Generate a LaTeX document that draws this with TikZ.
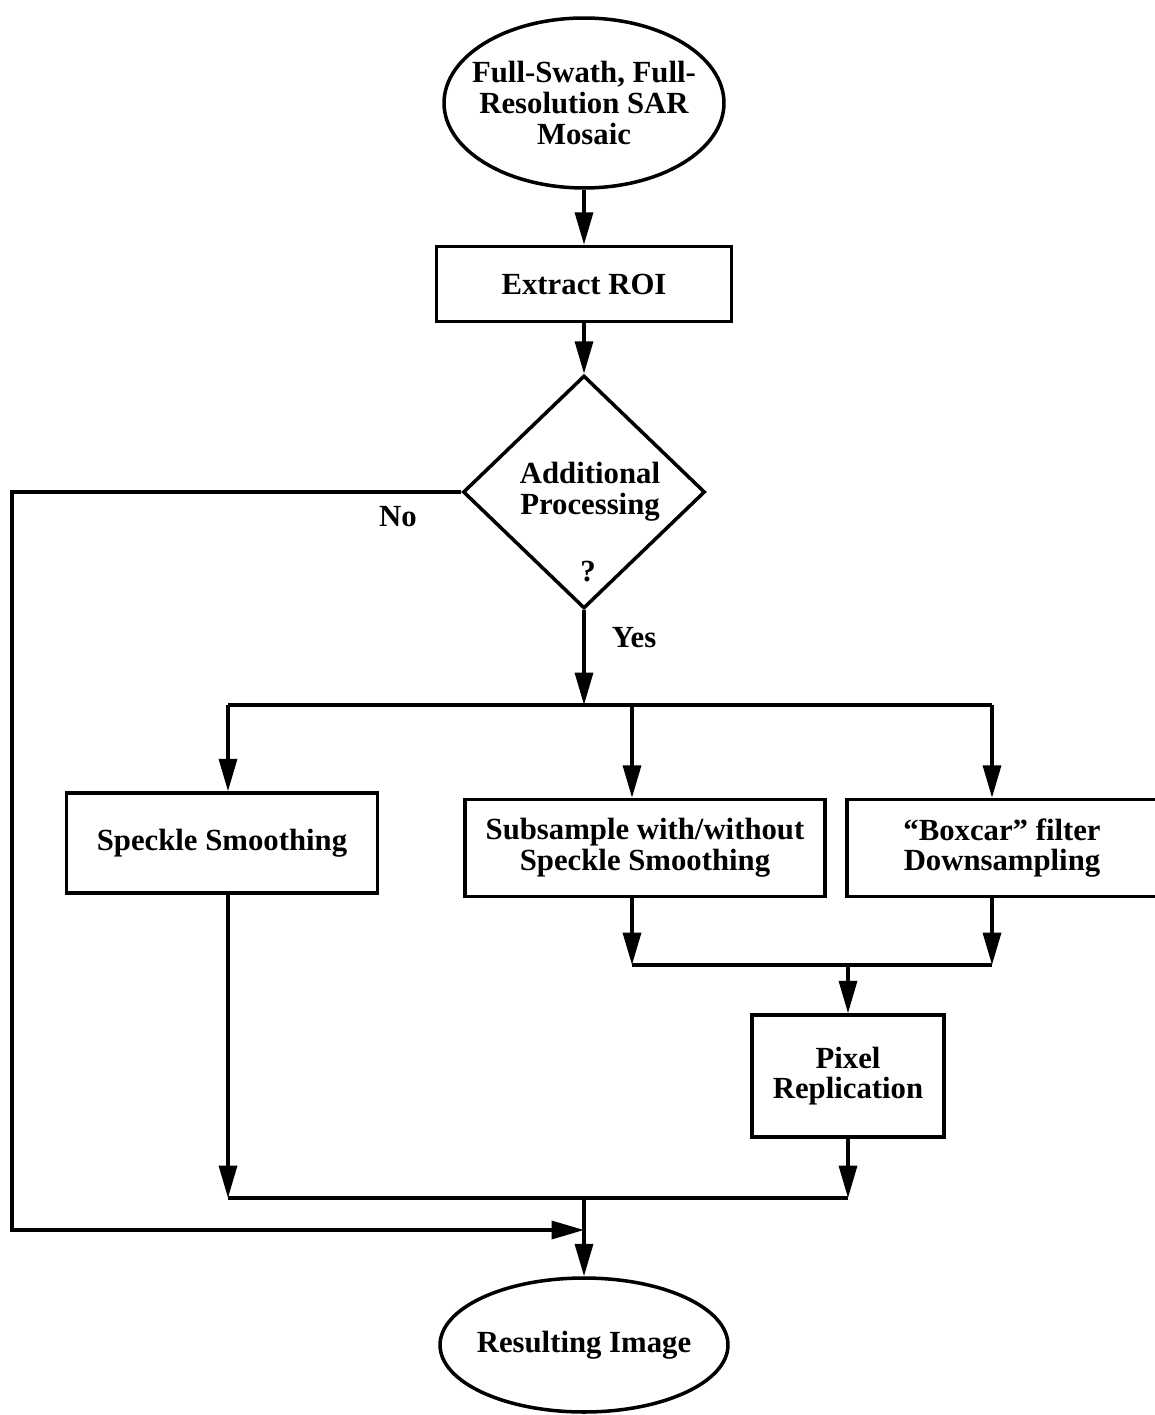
\documentclass[tikz,border=0pt]{standalone}
\usepackage{fontspec}
\setmainfont{Liberation Serif}
\usetikzlibrary{arrows.meta,shapes.geometric}

\begin{document}
\begin{tikzpicture}[x=0.02cm, y=-0.02cm, line width=2pt,
	every node/.style={font=\bfseries\fontsize{17.5}{17.5}\selectfont, align=center},
	>={Triangle[length=6.5mm, width=3.6mm]},
	proc/.style={draw, rectangle, inner sep=0pt},
	term/.style={draw, ellipse, inner sep=-3mm}]
	\useasboundingbox (0,0) rectangle (1154,1415);
	% main column
	\node[term, minimum width=5.6cm, minimum height=3.4cm] (mosaic) at (584,103) {Full-Swath, Full-\\Resolution SAR\\Mosaic};
	\node[proc, minimum width=5.9cm, minimum height=1.5cm] (roi) at (584,284) {Extract ROI};
	\node[draw, diamond, inner sep=0pt, minimum width=4.84cm, minimum height=4.66cm] (addl) at (584,492) {};
	\node (addltxt) at (590,492) {Additional\\Processing};
	\node (qmark) at (588,572) {?};
	\node (no) at (398,517) {No};
	\node (yes) at (634,638) {Yes};
	% branches
	\node[proc, minimum width=6.22cm, minimum height=2cm] (speck) at (222,843) {Speckle Smoothing};
	\node[proc, minimum width=7.2cm, minimum height=1.94cm] (sub) at (645,848) {Subsample with/without\\Speckle Smoothing};
	\node[proc, minimum width=6.2cm, minimum height=1.94cm] (boxcar) at (1002,848) {``Boxcar'' filter\\Downsampling};
	\node[proc, minimum width=3.84cm, minimum height=2.44cm] (pixel) at (848,1076) {Pixel\\Replication};
	\node[term, minimum width=5.76cm, minimum height=2.68cm] (result) at (584,1345) {Resulting Image};
	% junctions
	\coordinate (fa) at (228,705);
	\coordinate (fb) at (632,705);
	\coordinate (fc) at (992,705);
	\coordinate (fork) at (584,705);
	\coordinate (ja) at (632,965);
	\coordinate (jc) at (992,965);
	\coordinate (join) at (848,965);
	\coordinate (ma) at (228,1198);
	\coordinate (mb) at (848,1198);
	\coordinate (merge) at (584,1198);
	\coordinate (nw) at (12,492);
	\coordinate (sw) at (12,1230);
	\coordinate (nojoin) at (584,1230);

	\draw[->] (mosaic) -- (roi);
	\draw[->] (roi) -- (addl);
	\draw[->] (addl) -- (fork);
	\draw (fa) -- (fc);
	\foreach \f/\n in {fa/speck,fb/sub,fc/boxcar}
		\draw[->] (\f) -- (\f |- \n.north);
	\foreach \j/\n in {ja/sub,jc/boxcar}
		\draw[->] (\j |- \n.south) -- (\j);
	\draw (ja) -- (jc);
	\draw[->] (join) -- (pixel);
	\draw[->] (ma |- speck.south) -- (ma);
	\draw[->] (pixel) -- (mb);
	\draw (ma) -- (mb);
	\draw[->] (merge) -- (result);
	\draw[->] (addl.west) -- (nw) -- (sw) -- (nojoin);
\end{tikzpicture}
\end{document}
